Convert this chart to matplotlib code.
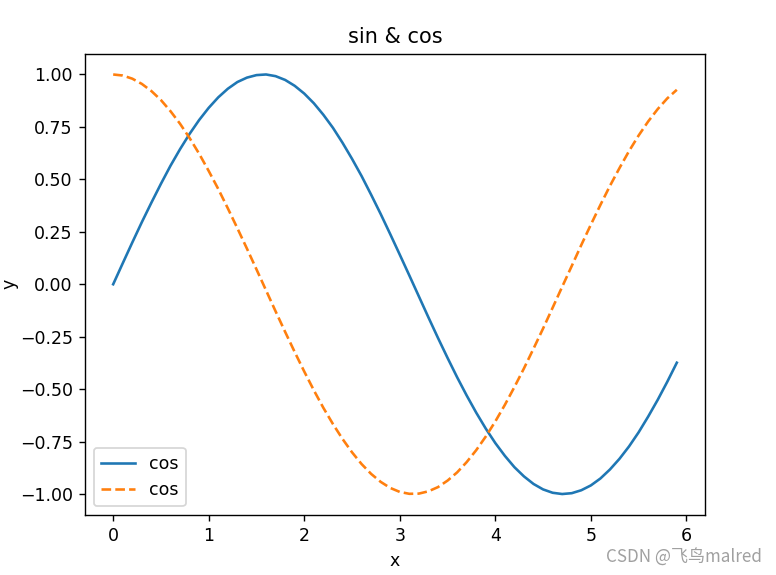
import matplotlib
matplotlib.use("Agg")
import matplotlib.pyplot as plt

# data (step 0.1)
x = [0.0, 0.1, 0.2, 0.3, 0.4, 0.5, 0.6, 0.7, 0.8, 0.9,
     1.0, 1.1, 1.2, 1.3, 1.4, 1.5, 1.6, 1.7, 1.8, 1.9,
     2.0, 2.1, 2.2, 2.3, 2.4, 2.5, 2.6, 2.7, 2.8, 2.9,
     3.0, 3.1, 3.2, 3.3, 3.4, 3.5, 3.6, 3.7, 3.8, 3.9,
     4.0, 4.1, 4.2, 4.3, 4.4, 4.5, 4.6, 4.7, 4.8, 4.9,
     5.0, 5.1, 5.2, 5.3, 5.4, 5.5, 5.6, 5.7, 5.8, 5.9]

y_sin = [0.000, 0.100, 0.199, 0.296, 0.389, 0.479, 0.565, 0.644, 0.717, 0.783,
         0.841, 0.891, 0.932, 0.964, 0.985, 0.997, 1.000, 0.992, 0.974, 0.946,
         0.909, 0.863, 0.808, 0.746, 0.675, 0.598, 0.516, 0.427, 0.335, 0.239,
         0.141, 0.042, -0.058, -0.158, -0.256, -0.351, -0.443, -0.530, -0.612, -0.688,
         -0.757, -0.818, -0.872, -0.916, -0.952, -0.978, -0.994, -1.000, -0.996, -0.982,
         -0.959, -0.926, -0.883, -0.832, -0.773, -0.706, -0.631, -0.551, -0.465, -0.374]

y_cos = [1.000, 0.995, 0.980, 0.955, 0.921, 0.878, 0.825, 0.765, 0.697, 0.622,
         0.540, 0.454, 0.362, 0.267, 0.170, 0.071, -0.029, -0.129, -0.227, -0.323,
         -0.416, -0.505, -0.589, -0.666, -0.737, -0.801, -0.857, -0.904, -0.942, -0.971,
         -0.990, -0.999, -0.998, -0.987, -0.967, -0.936, -0.897, -0.848, -0.791, -0.726,
         -0.654, -0.575, -0.490, -0.401, -0.307, -0.211, -0.112, -0.012, 0.087, 0.187,
         0.284, 0.378, 0.469, 0.554, 0.635, 0.709, 0.776, 0.835, 0.886, 0.927]

W, H, DPI = 776, 575, 125
fig = plt.figure(figsize=(W / DPI, H / DPI), dpi=DPI)
ax = fig.add_axes([85 / W, (H - 515) / H, 620 / W, 461.5 / H])

ax.plot(x, y_sin, '-', label='cos')
ax.plot(x, y_cos, '--', label='cos')
ax.set_title('sin & cos')
ax.set_xlabel('x')
ax.set_ylabel('y', labelpad=0.5)
ax.legend(loc='lower left')

# watermark
fig.text(762 / W, (H - 557) / H, 'CSDN @飞鸟malred', ha='right', va='center',
         fontsize=9.8, color='#a0a0a0',
         family=['Noto Sans CJK SC', 'DejaVu Sans'])

fig.savefig('out.png', dpi=DPI)
